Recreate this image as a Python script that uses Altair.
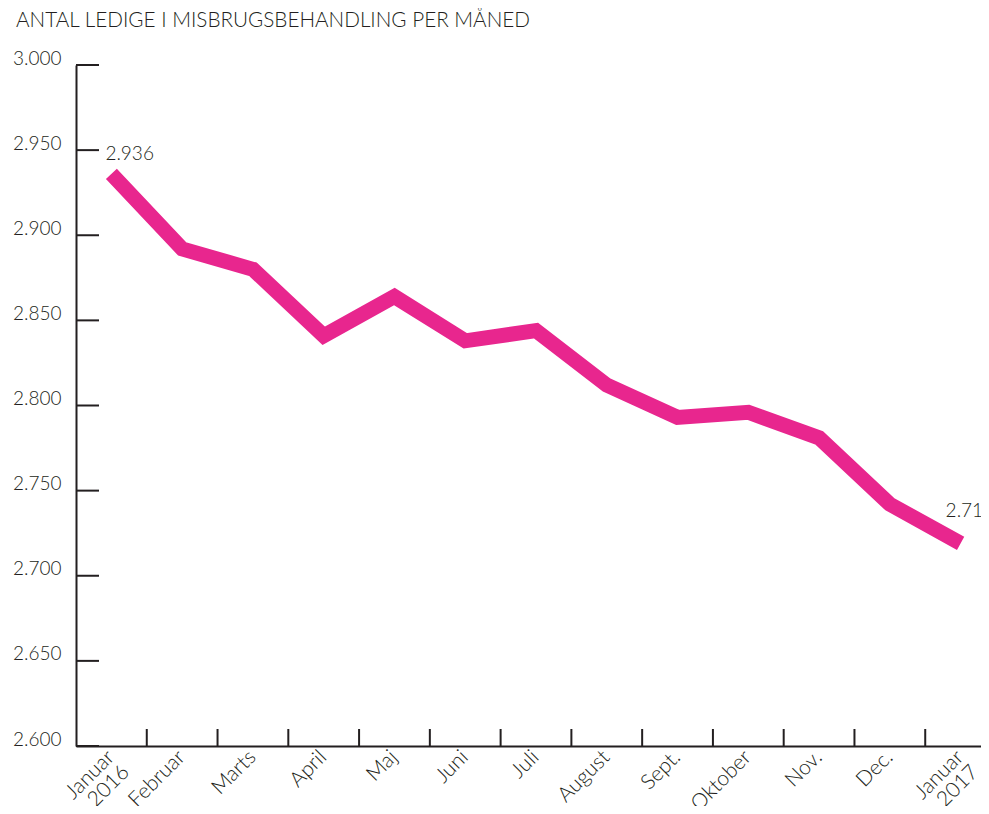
import altair as alt
import pandas as pd

months = ["Januar|2016", "Februar", "Marts", "April", "Maj", "Juni", "Juli",
          "August", "Sept.", "Oktober", "Nov.", "Dec.", "Januar|2017"]
values = [2936, 2892, 2880, 2841, 2864, 2838, 2844, 2812, 2793, 2796, 2781, 2742, 2719]
y_ticks = [2600, 2650, 2700, 2750, 2800, 2850, 2900, 2950, 3000]
title_text = "ANTAL LEDIGE I MISBRUGSBEHANDLING PER MÅNED"

W, H = 905, 681
INK = "#231F20"
PINK = "#E8268E"
FONT = "Lato"
FS = 19

df = pd.DataFrame({"month": months, "value": values})
df_ticks = pd.DataFrame({"value": y_ticks})
df_xticks = pd.DataFrame({"month": months[1:]})

xscale = alt.Scale(type="band", paddingInner=0, paddingOuter=0, range=[0, 920], domain=months)
yscale = alt.Scale(domain=[2600, 3000], nice=False, zero=False)
fmt = "replace(format(datum.value, ','), ',', '.')"

x_axis = alt.Axis(title=None, ticks=False, grid=False, domainColor=INK, domainWidth=2,
                  labelAngle=-45, labelAlign="right", labelBaseline="top",
                  labelPadding=0, labelOffset=-8, labelExpr="split(datum.label, '|')",
                  labelFont=FONT, labelFontSize=21, labelFontWeight=300,
                  labelColor=INK, labelLineHeight=21)
y_axis = alt.Axis(title=None, values=y_ticks, ticks=False, grid=False,
                  domainColor=INK, domainWidth=2, labelPadding=15,
                  labelExpr=fmt, labelBaseline="alphabetic", labelOffset=-1,
                  labelFont=FONT, labelFontSize=FS, labelFontWeight=300,
                  labelColor=INK)


def X(bp):
    return alt.X("month:N", sort=months, scale=xscale, bandPosition=bp, axis=x_axis)


def Y():
    return alt.Y("value:Q", scale=yscale, axis=y_axis)


line = alt.Chart(df).mark_line(color=PINK, strokeWidth=15, strokeJoin="miter",
                               strokeCap="butt").encode(x=X(0.5), y=Y())

yt = alt.Chart(df_ticks).mark_rule(color=INK, strokeWidth=2).encode(
    y=Y(), x=alt.value(0), x2=alt.value(23),
)

xt = alt.Chart(df_xticks).mark_rule(color=INK, strokeWidth=2).encode(
    x=X(0), y=alt.value(H - 17), y2=alt.value(H),
)

lab_first = alt.Chart(df.iloc[[0]]).transform_calculate(
    lbl=fmt
).mark_text(align="left", baseline="alphabetic", dx=-6, dy=-14, font=FONT,
            fontSize=FS, fontWeight=300, color=INK).encode(
    x=X(0.5), y=Y(), text="lbl:N",
)

lab_last = alt.Chart(df.iloc[[-1]]).transform_calculate(
    lbl=fmt
).mark_text(align="left", baseline="alphabetic", dx=-15, dy=-26, font=FONT,
            fontSize=FS, fontWeight=300, color=INK).encode(
    x=X(0.5), y=Y(), text="lbl:N",
)

chart = alt.layer(line, yt, xt, lab_first, lab_last).properties(
    width=W, height=H,
    title=alt.TitleParams(title_text, anchor="start", frame="group", dx=-60, offset=17,
                          font=FONT, fontSize=20.7, fontWeight=300, color=INK),
    autosize=alt.AutoSizeParams(type="none"),
    padding={"left": 68, "top": 57, "right": 0, "bottom": 60},
).configure_view(stroke=None)

chart.save("out.html", embed_options={"renderer": "svg", "actions": False})
